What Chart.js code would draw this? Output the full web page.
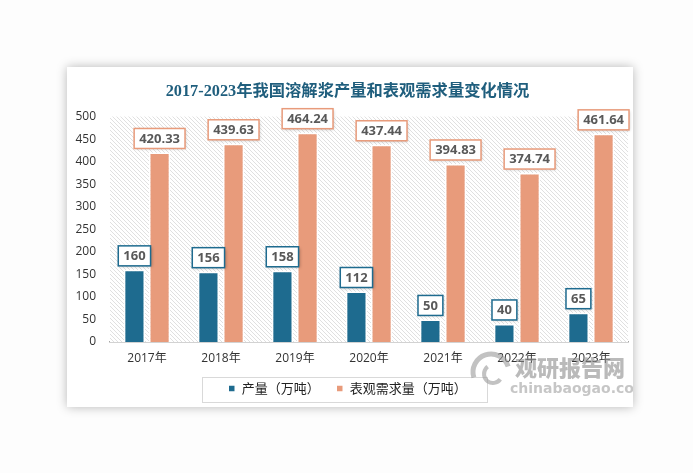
<!DOCTYPE html>
<html><head><meta charset="utf-8">
<script src="https://cdn.jsdelivr.net/npm/chart.js@4/dist/chart.umd.min.js"></script>
<style>
html,body{margin:0;padding:0;background:#fdfdfd;width:693px;height:473px;overflow:hidden}
#card{position:absolute;left:67px;top:67px;width:566px;height:340px;background:#fff;box-shadow:0 0 10px rgba(0,0,0,0.28)}
canvas{display:block}
</style></head>
<body>
<div id="card"><canvas id="c" width="566" height="340"></canvas></div>
<script>
const categories = ['2017年','2018年','2019年','2020年','2021年','2022年','2023年'];
const production = [160,156,158,112,50,40,65];
const demand = [420.33,439.63,464.24,437.44,394.83,374.74,461.64];
const seriesNames = ['产量（万吨）','表观需求量（万吨）'];
const titleText = '2017-2023年我国溶解浆产量和表观需求量变化情况';
const BLUE = '#1e6b8f', ORANGE = '#e89b7b';

function hatch(){
  const s = 4, p = document.createElement('canvas');
  p.width = s; p.height = s;
  const g = p.getContext('2d');
  g.fillStyle = '#ffffff'; g.fillRect(0,0,s,s);
  g.strokeStyle = '#e0e0e0'; g.lineWidth = 1;
  g.beginPath();
  g.moveTo(-1,-1); g.lineTo(s+1,s+1);
  g.moveTo(-1,s-1); g.lineTo(1,s+1);
  g.moveTo(s-1,-1); g.lineTo(s+1,1);
  g.stroke();
  return p;
}

const bgPlugin = {
  id:'bg',
  beforeDatasetsDraw(chart){
    const {ctx, chartArea:a} = chart;
    ctx.save();
    ctx.fillStyle = ctx.createPattern(hatch(),'repeat');
    ctx.fillRect(a.left,a.top,a.right-a.left,a.bottom-a.top);
    ctx.restore();
  }
};

const labelPlugin = {
  id:'vlabels',
  afterDatasetsDraw(chart){
    const ctx = chart.ctx;
    ctx.save();
    ctx.font = 'bold 13px "Open Sans"';
    ctx.textAlign = 'center'; ctx.textBaseline = 'middle';
    chart.data.datasets.forEach((ds,i)=>{
      const meta = chart.getDatasetMeta(i);
      meta.data.forEach((el,j)=>{
        const t = String(ds.data[j]);
        const w = ctx.measureText(t).width + 10, h = 20;
        const x = el.x - w/2, y = el.y - 4 - h;
        ctx.save();
        ctx.shadowColor = 'rgba(0,0,0,0.25)'; ctx.shadowBlur = 3; ctx.shadowOffsetX = 1; ctx.shadowOffsetY = 1;
        ctx.fillStyle = '#fff'; ctx.fillRect(x,y,w,h);
        ctx.restore();
        ctx.strokeStyle = ds.backgroundColor; ctx.lineWidth = 1.5;
        ctx.strokeRect(x,y,w,h);
        ctx.fillStyle = '#595959';
        ctx.fillText(t, el.x, y + h/2 + 0.5);
      });
    });
    ctx.restore();
  }
};

const extrasPlugin = {
  id:'extras',
  afterDraw(chart){
    const ctx = chart.ctx;
    const lg = chart.legend;
    ctx.save();
    if (lg && lg.legendHitBoxes && lg.legendHitBoxes.length){
      const hb = lg.legendHitBoxes;
      const l = hb[0].left - 26, r = hb[hb.length-1].left + hb[hb.length-1].width + 20;
      const cy = hb[0].top + hb[0].height/2;
      ctx.strokeStyle = '#d9d9d9'; ctx.lineWidth = 1;
      ctx.strokeRect(Math.round(l)+0.5, Math.round(cy-12)+0.5, Math.round(r-l), 25);
    }
    // watermark
    ctx.globalAlpha = 0.6;
    ctx.strokeStyle = '#9a9a9a'; ctx.lineWidth = 5;
    ctx.beginPath(); ctx.arc(424,305,18,Math.PI*0.9,Math.PI*1.9); ctx.stroke();
    ctx.lineWidth = 4;
    ctx.beginPath(); ctx.arc(426,307,9,Math.PI*0.2,Math.PI*1.3); ctx.stroke();
    ctx.fillStyle = '#8c8c8c';
    ctx.font = '900 22px "Noto Sans CJK SC"';
    ctx.textAlign = 'left'; ctx.textBaseline = 'middle';
    ctx.fillText('观研报告网', 448, 301);
    ctx.font = 'bold 14px "DejaVu Sans"';
    ctx.fillStyle = '#a0a0a0';
    ctx.fillText('chinabaogao.com', 443, 322);
    ctx.restore();
  }
};

new Chart(document.getElementById('c'), {
  type:'bar',
  data:{
    labels: categories,
    datasets:[
      {label: seriesNames[0], data: production, backgroundColor: BLUE, borderColor:'#fff', borderWidth:1.5,
       categoryPercentage:0.68, barPercentage:0.84},
      {label: seriesNames[1], data: demand, backgroundColor: ORANGE, borderColor:'#fff', borderWidth:1.5,
       categoryPercentage:0.68, barPercentage:0.84}
    ]
  },
  options:{
    responsive:false, animation:false,
    layout:{padding:{left:0,right:5,top:0,bottom:2}},
    plugins:{
      title:{display:true, text:titleText, color:'#1f5e7d',
        font:{family:'"Liberation Serif","Noto Sans CJK SC"', size:16.3, weight:'bold', lineHeight:1.2},
        padding:{top:15,bottom:15}},
      legend:{position:'bottom',
        labels:{boxWidth:7, boxHeight:7, padding:10, color:'#222',
          font:{family:'"Noto Sans CJK SC"', size:13},
          generateLabels(chart){
            const items = Chart.defaults.plugins.legend.labels.generateLabels(chart);
            items.forEach((it,k)=>{ if (k < items.length-1) it.text = it.text + '\u3000'; });
            return items;
          }}},
      tooltip:{enabled:false}
    },
    scales:{
      x:{grid:{display:false, drawTicks:false},
         border:{display:true, color:'#a6a6a6', width:1.5},
         ticks:{padding:9, color:'#333', font:{family:'"Open Sans","Noto Sans CJK SC"', size:12}},
         afterFit(s){ s.height = 30; }},
      y:{min:0, max:500, grid:{display:false, drawTicks:false}, border:{display:false},
         ticks:{stepSize:50, padding:14, color:'#333', font:{family:'"Open Sans"', size:12}},
         afterFit(s){ s.width = 43; }}
    }
  },
  plugins:[bgPlugin, labelPlugin, extrasPlugin]
});
</script>
</body></html>
